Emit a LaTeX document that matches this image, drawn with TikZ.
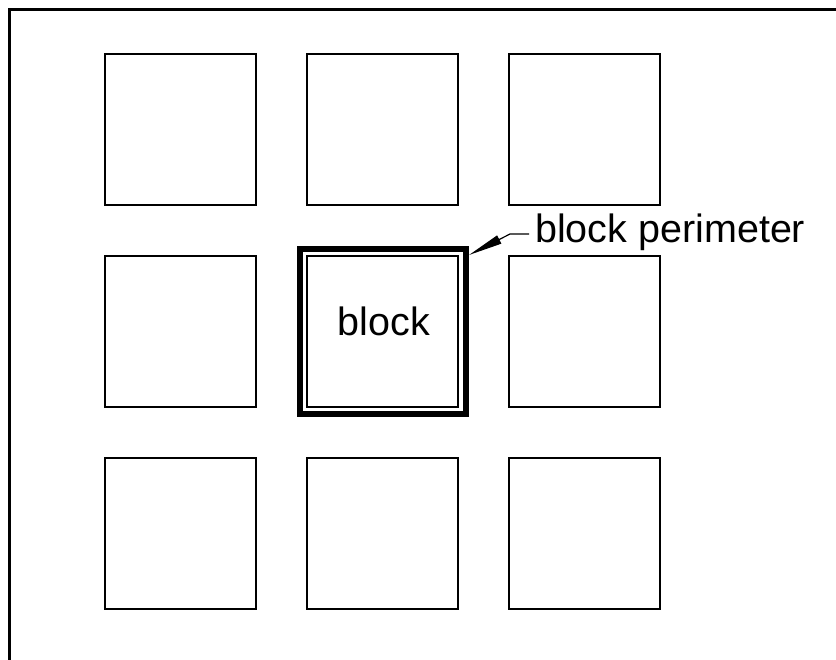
\documentclass[tikz,border=0pt]{standalone}
\usepackage{fontspec}
\setmainfont{Liberation Sans}
\usetikzlibrary{arrows.meta}
\begin{document}
\begin{tikzpicture}[x=1pt,y=-1pt, every node/.style={font=\fontsize{39.5}{47}\selectfont, inner sep=0pt}]
\useasboundingbox (0,0) rectangle (836,660);
% frame, only top and left edges show
\draw[line width=2.7pt] (9.5,660) -- (9.5,9.5) -- (836,9.5);
% grid of blocks
\foreach \col in {0,1,2}
  \foreach \row in {0,1,2}
    \draw[line width=1.2pt] (105+202*\col,54+202*\row) rectangle ++(151,151);
% perimeter of the middle block
\draw[line width=6pt] (300,249) rectangle (466,414);
\node[anchor=base] (blk) at (384,336) {block};
\node[anchor=base west] (perim) at (535,243) {block perimeter};
\coordinate (corner) at (469,255);
\coordinate (bend) at (510,234);
\draw[line width=1.2pt, {Triangle[length=34pt,width=9pt]}-] (corner) -- (bend) -- ([xshift=-6pt]perim.west |- bend);
\end{tikzpicture}
\end{document}
